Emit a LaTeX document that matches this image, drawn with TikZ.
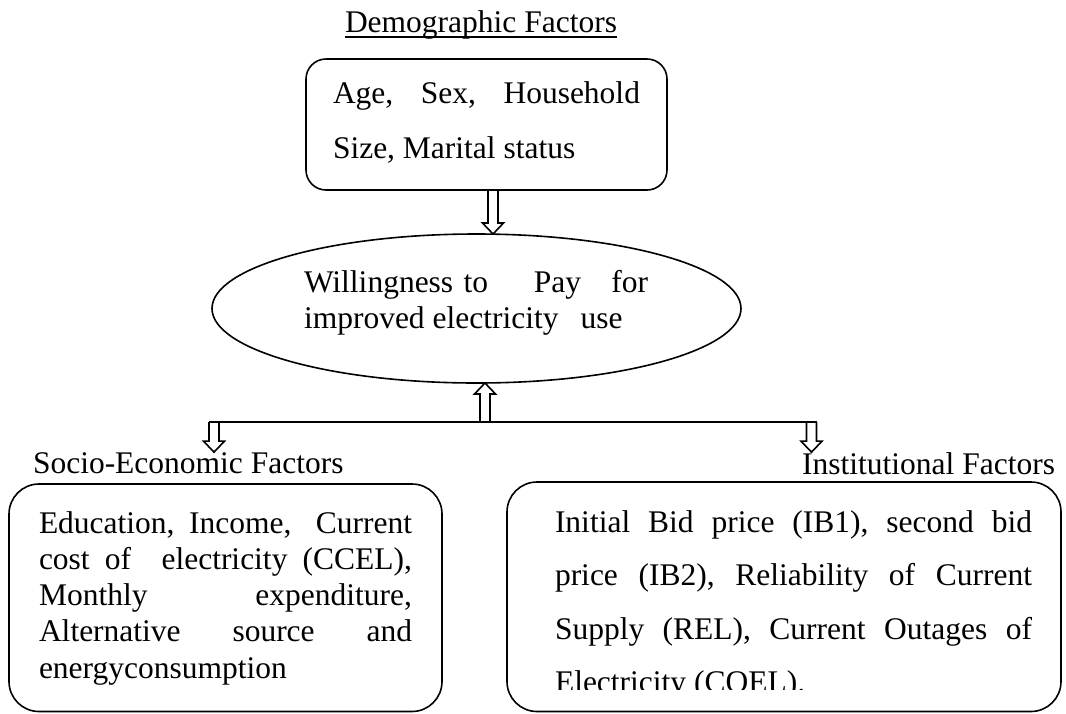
\documentclass[tikz,border=0pt]{standalone}
\usepackage{fontspec}
\setmainfont{Liberation Serif}
\usetikzlibrary{shapes.geometric,calc}
\tikzset{
  box/.style={draw, line width=1.6pt, rounded corners=#1, inner sep=0pt, outer sep=0pt},
  txt/.style={inner sep=0pt, outer sep=0pt, anchor=base west, font=\fontsize{31.5}{36}\selectfont},
  blk/.style={draw, line width=1.6pt, line join=miter},
  busline/.style={draw, line width=1.6pt}
}
\newcommand\arrdown[2]{\draw[blk] ($(#1)+(-5,0)$) -- ($(#2)+(-5,-11)$) -- ($(#2)+(-10.5,-11)$) -- (#2) -- ($(#2)+(10.5,-11)$) -- ($(#2)+(5,-11)$) -- ($(#1)+(5,0)$);}
\newcommand\arrup[2]{\draw[blk] ($(#1)+(-5,0)$) -- ($(#2)+(-5,11)$) -- ($(#2)+(-10.5,11)$) -- (#2) -- ($(#2)+(10.5,11)$) -- ($(#2)+(5,11)$) -- ($(#1)+(5,0)$);}
\begin{document}
\begin{tikzpicture}[x=1pt,y=-1pt]
\useasboundingbox (0,0) rectangle (1066,713);
\fill[white] (0,0) rectangle (1066,713);

% title
\node[txt] (demolab) at (345,32) {Demographic Factors};
\draw[line width=1.5pt] ([yshift=-5pt]demolab.base west) -- ([yshift=-5pt]demolab.base east);

% demographic box
\node[box=20pt, minimum width=361pt, minimum height=131pt] (demo) at (486.5,124.5) {};
\node[txt] (demotxt) at (333,103) {\vtop{\baselineskip=55pt
  \hbox to 307pt{Age,\hfil Sex,\hfil Household}
  \hbox{Size, Marital status}}};

% ellipse
\node[draw, ellipse, line width=1.6pt, minimum width=529pt, minimum height=149pt, inner sep=0pt, outer sep=0pt] (wtp) at (476.5,308.5) {};
\node[txt] (wtptxt) at (304,292) {\vtop{\baselineskip=36pt
  \hbox to 344pt{Willingness\hskip 0pt plus 10fil\relax to\hskip 0pt plus 44fil\relax Pay\hskip 0pt plus 29fil\relax for}
  \hbox{improved electricity\hspace{22pt}use}}};

% labels
\node[txt] (soclab) at (33,473) {Socio-Economic Factors};
\node[txt, anchor=base east] (inslab) at (1055,474) {Institutional Factors};

% bottom boxes
\node[box=30pt, minimum width=433pt, minimum height=227.5pt] (socbox) at (225.5,597.75) {};
\node[box=30pt, minimum width=554pt, minimum height=229.5pt] (insbox) at (784,596.75) {};

\node[txt] (soctxt) at (39,533) {\vtop{\baselineskip=36.25pt
  \hbox to 373pt{Education,\hskip 0pt plus 18fil\relax Income,\hskip 0pt plus 30fil\relax Current}
  \hbox to 373pt{cost\hskip 0pt plus 1fil\relax of\hskip 0pt plus 2fil\relax electricity\hskip 0pt plus 1fil\relax (CCEL),}
  \hbox to 373pt{Monthly\hfil expenditure,}
  \hbox to 373pt{Alternative\hfil source\hfil and}
  \hbox{energyconsumption}}};

\begin{scope}
\clip (0,0) rectangle (1066,689);
\node[txt] (instxt) at (555,532) {\vtop{\baselineskip=53.5pt
  \hbox to 477pt{Initial\hfil Bid\hfil price\hfil (IB1),\hfil second\hfil bid}
  \hbox to 477pt{price\hfil (IB2),\hfil Reliability\hfil of\hfil Current}
  \hbox to 477pt{Supply\hfil (REL),\hfil Current\hfil Outages\hfil of}
  \hbox{Electricity (COEL).}}};
\end{scope}

% connectors
\coordinate (a1s) at ([xshift=6.5pt]demo.south);
\coordinate (a1t) at (a1s |- wtp.north);
\arrdown{a1s}{a1t}

\coordinate (hub) at (485,422);
\coordinate (a2t) at (hub |- wtp.south);
\arrup{hub}{a2t}

\coordinate (ls) at (214,422);
\coordinate (lt) at (ls |- soclab.north);
\coordinate (rs) at (811.5,422);
\coordinate (rt) at (rs |- inslab.north);
\draw[busline] ($(ls)+(-5,0)$) -- ($(rs)+(5,0)$);
\arrdown{ls}{lt}
\arrdown{rs}{rt}
\end{tikzpicture}
\end{document}
